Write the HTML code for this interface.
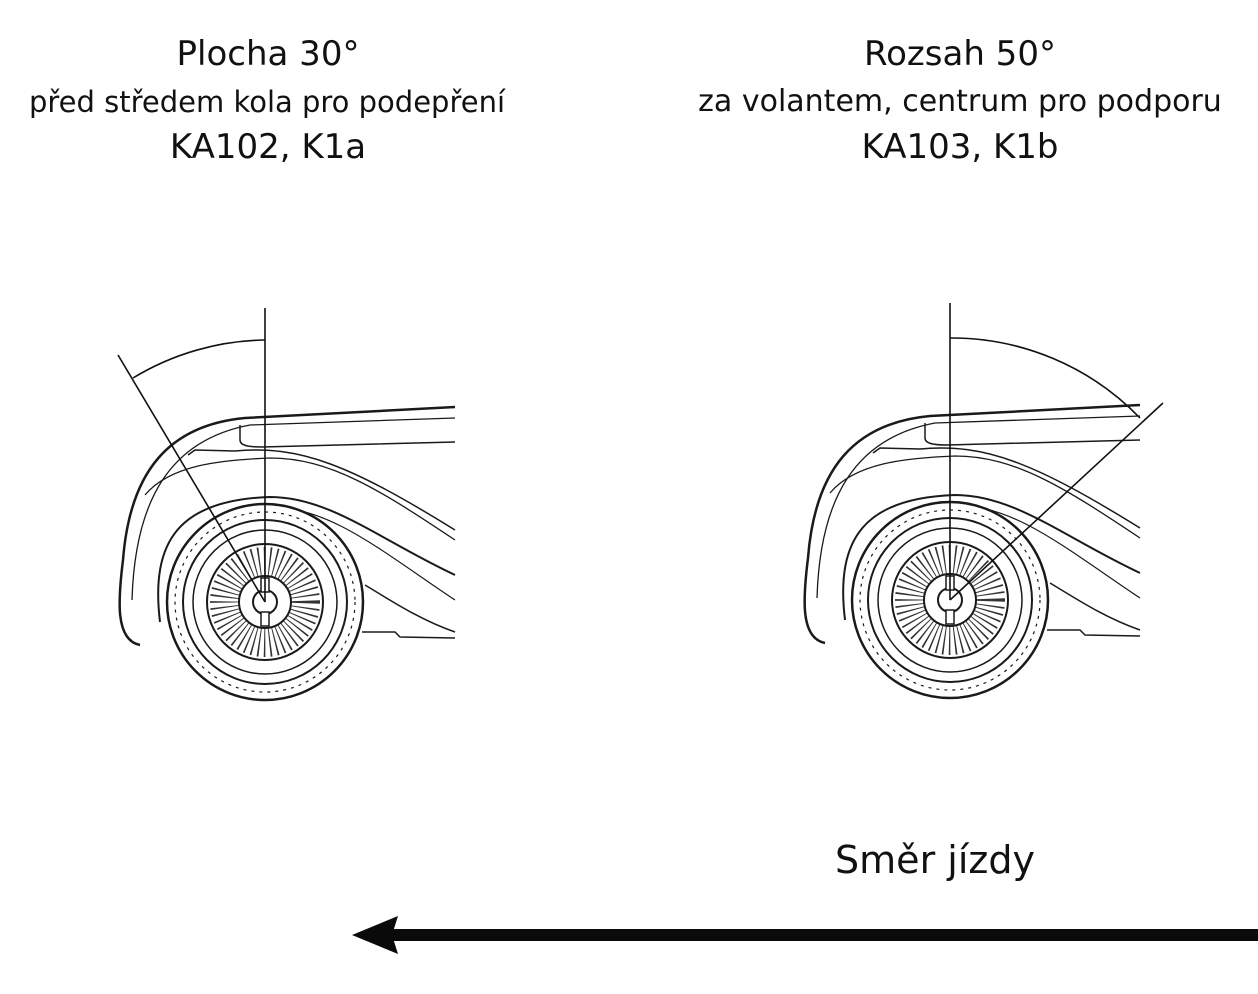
<!DOCTYPE html>
<html><head><meta charset="utf-8"><style>
html,body{margin:0;padding:0;background:#fff;}
body{width:1258px;height:994px;overflow:hidden;position:relative;font-family:"DejaVu Sans","Liberation Sans",sans-serif;color:#111;}
.t{position:absolute;text-align:center;white-space:nowrap;}
</style></head><body>
<svg width="1258" height="994" style="position:absolute;left:0;top:0">
<defs>
<g id="car" fill="none" stroke="#1a1a1a">
  <path d="M140,645 C115,640 118,600 123,560 C130,470 170,425 245,418 L455,407" stroke-width="2.5"/>
  <path d="M132,600 C135,500 170,440 250,425 L455,418" stroke-width="1.3"/>
  <path d="M240,425 L240,440 C240,446 250,447 262,447 L455,442" stroke-width="1.5"/>
  <path d="M188,455 L195,450 L235,451 C300,445 350,465 455,530" stroke-width="1.5"/>
  <path d="M145,495 C170,465 220,460 270,458 C330,458 380,490 455,540" stroke-width="1.3"/>
  <path d="M160,622 C150,540 180,500 270,497 C330,497 380,540 455,575" stroke-width="2"/>
  <path d="M175,620 C170,530 210,508 270,507 C330,507 380,550 455,600" stroke-width="1.2"/>
  <path d="M365,585 C390,600 420,620 455,632" stroke-width="1.5"/>
  <path d="M362,632 L395,632 L400,637 L455,638" stroke-width="1.5"/>
  <circle cx="265" cy="602" r="98" stroke-width="2.5" fill="#fff"/>
  <circle cx="265" cy="602" r="90" stroke-width="1.2" stroke-dasharray="3 5"/>
  <circle cx="265" cy="602" r="82" stroke-width="2"/>
  <circle cx="265" cy="602" r="72" stroke-width="1.5"/>
  <circle cx="265" cy="602" r="58" stroke-width="2"/>
  <circle cx="265" cy="602" r="40" stroke-width="30" stroke-dasharray="1.3 3.9" stroke="#333"/>
  <circle cx="265" cy="602" r="26" stroke-width="2" fill="#fff"/>
  <circle cx="265" cy="602" r="12" stroke-width="2" fill="#fff"/>
  <rect x="261" y="578" width="8" height="14" stroke-width="1.5" fill="#fff"/>
  <rect x="261" y="612" width="8" height="14" stroke-width="1.5" fill="#fff"/>
</g>
</defs>
<use href="#car"/>
<use href="#car" transform="translate(685,-2)"/>
<g fill="none" stroke="#111" stroke-width="1.6">
  <line x1="265" y1="308" x2="265" y2="602"/>
  <line x1="118" y1="355" x2="265" y2="602"/>
  <path d="M133,378 A262,262 0 0 1 265,340"/>
  <line x1="950" y1="303" x2="950" y2="600"/>
  <line x1="1163" y1="403" x2="950" y2="600"/>
  <path d="M950,338 A262,262 0 0 1 1140,418"/>
</g>
<rect x="380" y="929" width="878" height="12" fill="#0a0a0a"/>
<path d="M352,935 L398,916 L392,935 L398,954 Z" fill="#0a0a0a"/>
</svg>
<div class="t" style="left:68px;width:400px;top:34px;font-size:34px">Plocha 30°</div>
<div class="t" style="left:0px;width:534px;top:85px;font-size:29px">před středem kola pro podepření</div>
<div class="t" style="left:68px;width:400px;top:127px;font-size:34px">KA102, K1a</div>
<div class="t" style="left:760px;width:400px;top:34px;font-size:34px">Rozsah 50°</div>
<div class="t" style="left:660px;width:600px;top:84px;font-size:30px">za volantem, centrum pro podporu</div>
<div class="t" style="left:760px;width:400px;top:127px;font-size:34px">KA103, K1b</div>
<div class="t" style="left:735px;width:400px;top:838px;font-size:38px">Směr jízdy</div>
</body></html>
